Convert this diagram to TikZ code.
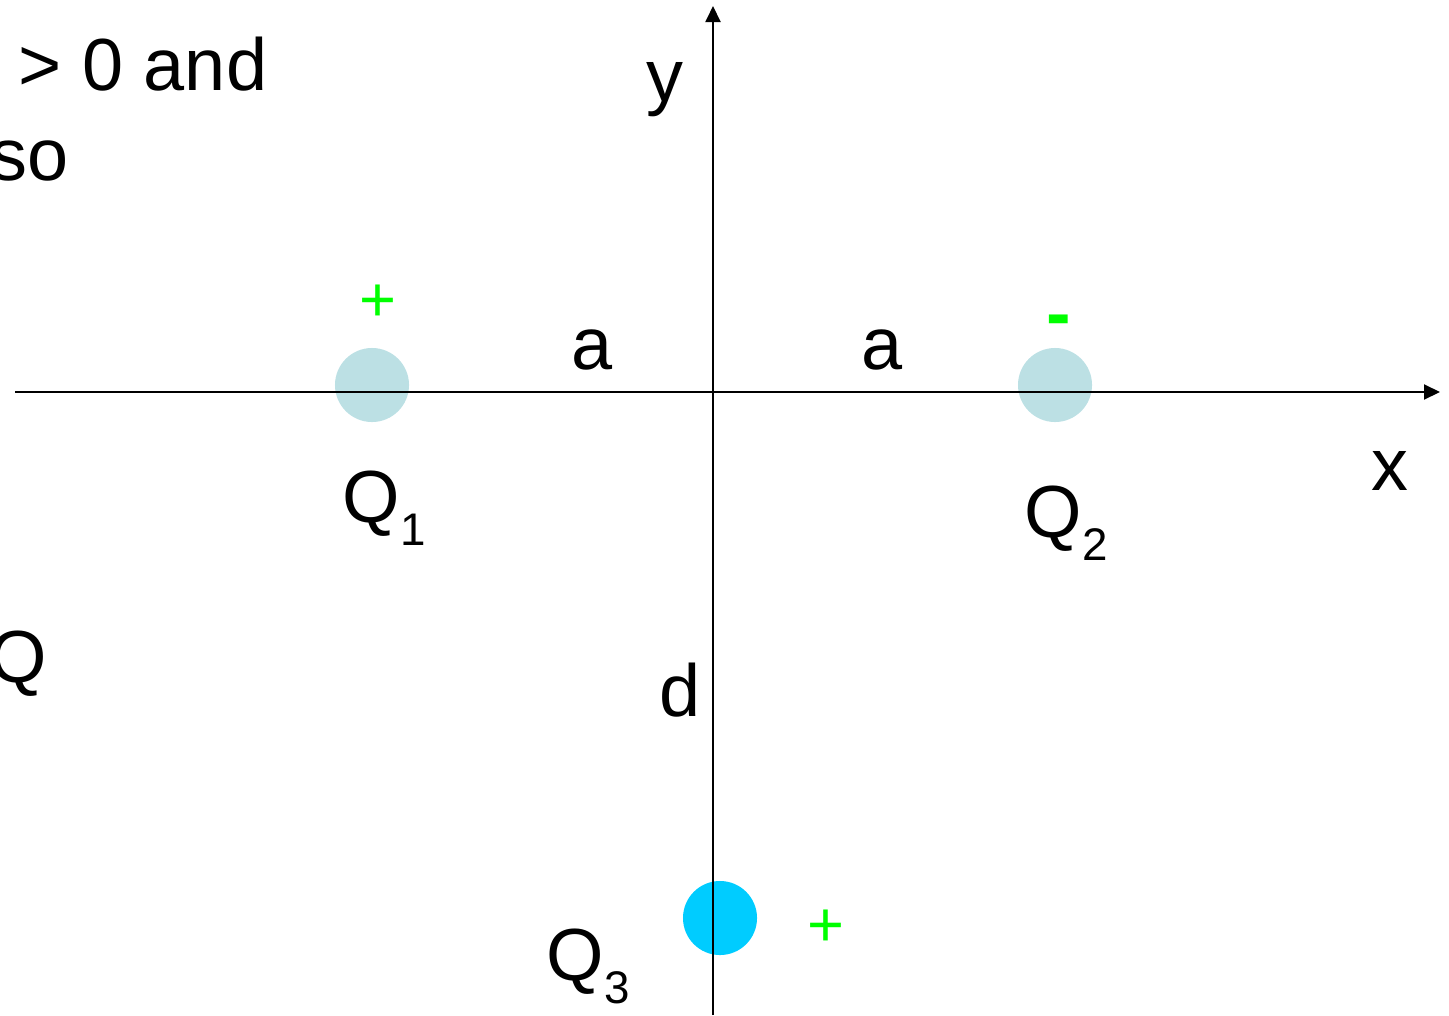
\documentclass[tikz,border=0pt]{standalone}
\usepackage{fontspec}
\setmainfont{Liberation Sans}
\usetikzlibrary{arrows.meta,positioning}
\definecolor{halvany}{RGB}{188,224,228}
\definecolor{egkek}{RGB}{0,204,255}
\definecolor{zold}{RGB}{0,255,0}
\newcommand{\nagy}{\fontsize{21}{25}\selectfont}
\newcommand{\also}[1]{\raisebox{-0.32em}{\fontsize{13}{13}\selectfont #1}}
\tikzset{
  toltes/.style={circle,fill=#1,minimum size=7.4mm,inner sep=0pt},
  tengely/.style={-{Triangle[length=1.6mm,width=1.5mm]},line width=0.55pt},
  cimke/.style={font=\nagy,inner sep=0pt},
  jel/.style={font=\fontsize{18}{18}\selectfont,text=zold,inner sep=0pt},
}
\begin{document}
\begin{tikzpicture}[x=0.01cm,y=-0.01cm]
  \clip (0,0) rectangle (1449,1015);
  % toltesek
  \node[toltes=halvany] (q1) at (372,385) {};
  \node[toltes=halvany] (q2) at (1055,385) {};
  \node[toltes=egkek] (q3) at (720,918) {};
  % tengelyek
  \coordinate (xbal) at (15,392); \coordinate (xjobb) at (1440,392);
  \coordinate (ylent) at (713,1015); \coordinate (yfent) at (713,6);
  \draw[tengely] (xbal) -- (xjobb);
  \draw[tengely] (ylent) -- (yfent);
  \node[cimke] (xc) at (1390,471) {x};
  \node[cimke] (yc) at (665,90) {y};
  \node[cimke] (a1) at (592,350) {a};
  \node[cimke] (a2) at (882,350) {a};
  \node[cimke] (dc) at (680,690) {d};
  \node[cimke,anchor=base west] (q1c) at (342,522) {Q\also{1}};
  \node[cimke,anchor=base west] (q2c) at (1024,537) {Q\also{2}};
  \node[cimke,anchor=base west] (q3c) at (546,980) {Q\also{3}};
  % elojelek
  \node[jel] (j1) at (378,303) {+};
  \node[jel,font=\nagy\bfseries] (j2) at (1059,327) {-};
  \node[jel] (j3) at (826,928) {+};
  % levagott szoveg a bal szelen
  \node[cimke,anchor=base west] (t1) at (18,90) {> 0 and};
  \node[cimke,anchor=base east] (t2) at (69,180) {so};
  \node[cimke,anchor=base east] (t3) at (48,682) {Q};
\end{tikzpicture}
\end{document}
